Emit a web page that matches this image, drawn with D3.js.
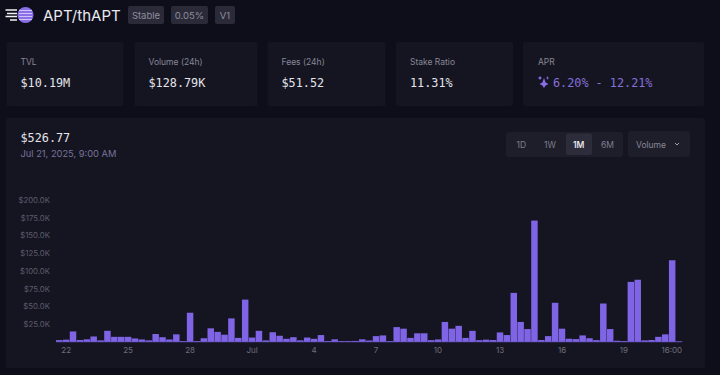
<!DOCTYPE html>
<html lang="en">
<head>
<meta charset="UTF-8">
<title>APT/thAPT</title>
<script src="https://d3js.org/d3.v7.min.js"></script>
<style>
    html, body { margin: 0; padding: 0; background: #0e0e1b; overflow: hidden; }
    svg { display: block; font-family: Inter, sans-serif; }
    .mono { font-family: "DejaVu Sans Mono", monospace; }
</style>
</head>
<body>
<svg id="chart"></svg>
<script>
    // volume per 8h bucket, in thousands of dollars
    const volumes = [
        2.4, 3, 14.6, 2.5, 3.5, 7.5, 2, 15.5, 7, 7, 7, 4.7, 3.3, 2, 11, 6.5, 3.3, 10.5, 1, 41,
        1, 5, 19, 14, 10, 33, 5.5, 59.5, 6, 15.5, 2, 13.5, 8.5, 4.2, 6.5, 2, 6, 4.2, 9.5, 1,
        3.5, 1, 1, 1.2, 3.5, 1.8, 8, 9, 1, 20.7, 18.5, 5.5, 12, 12, 2.3, 3.3, 28, 18.5, 22.5, 5.5,
        15.5, 2.3, 3, 2.5, 13.2, 9.5, 69, 28, 18, 171, 2.5, 8, 55, 18.5, 4.3, 3.8, 9, 5, 2.4, 54,
        18, 1.5, 1, 84.5, 87.5, 2, 2.5, 7, 10.5, 115, 0.53
    ];
    const yTicks = [25, 50, 75, 100, 125, 150, 175, 200];
    const xTickBars = [1, 10, 19, 28, 37, 46, 55, 64, 73, 82, 90];
    const xTickLabels = ["22", "25", "28", "Jul", "4", "7", "10", "13", "16", "19", "16:00"];

    const stats = [
        { label: "TVL", value: "$10.19M", x: 6.5, w: 117 },
        { label: "Volume (24h)", value: "$128.79K", x: 134.5, w: 123 },
        { label: "Fees (24h)", value: "$51.52", x: 267.5, w: 118 },
        { label: "Stake Ratio", value: "11.31%", x: 396, w: 117 }
    ];
    const badges = [
        { text: "Stable", x: 128, w: 36 },
        { text: "0.05%", x: 171, w: 37 },
        { text: "V1", x: 215, w: 20 }
    ];
    const ranges = ["1D", "1W", "1M", "6M"];

    const width = 720;
    const height = 375;
    const cardFill = "#151522";

    const svg = d3.select("#chart").attr("width", width).attr("height", height);

    // header
    const logo = svg.append("g");
    logo.append("circle").attr("cx", 25.5).attr("cy", 15).attr("r", 8).attr("fill", "#8a6fe8");
    [10.5, 13.5, 16.5, 19.5].forEach(y => {
        logo.append("line").attr("x1", 19).attr("x2", 32).attr("y1", y).attr("y2", y)
            .attr("stroke", "#d8cffa").attr("stroke-width", 0.9);
    });
    [[5.5, 10], [7, 13.5], [5.5, 16.5], [10, 20]].forEach(d => {
        logo.append("line").attr("x1", d[0]).attr("x2", 17).attr("y1", d[1]).attr("y2", d[1])
            .attr("stroke", "#f2f2f5").attr("stroke-width", 1.5);
    });
    svg.append("text").attr("x", 43).attr("y", 20.5).attr("fill", "#e9e9ee")
        .attr("font-size", 15).text("APT/thAPT");

    badges.forEach(b => {
        svg.append("rect").attr("x", b.x).attr("y", 6).attr("width", b.w).attr("height", 18)
            .attr("rx", 2).attr("fill", "#2a2a39");
        svg.append("text").attr("x", b.x + b.w / 2).attr("y", 18.5).attr("text-anchor", "middle")
            .attr("fill", "#8e8e9c").attr("font-size", 9.5).text(b.text);
    });

    // stat cards
    stats.forEach(s => {
        svg.append("rect").attr("x", s.x).attr("y", 42).attr("width", s.w).attr("height", 64)
            .attr("rx", 2).attr("fill", cardFill);
        svg.append("text").attr("x", s.x + 14).attr("y", 65).attr("fill", "#878795")
            .attr("font-size", 8.5).text(s.label);
        svg.append("text").attr("class", "mono").attr("x", s.x + 14).attr("y", 87)
            .attr("fill", "#e4e4ea").attr("font-size", 11.8).text(s.value);
    });
    svg.append("rect").attr("x", 523).attr("y", 42).attr("width", 181).attr("height", 64)
        .attr("rx", 2).attr("fill", cardFill);
    svg.append("text").attr("x", 538).attr("y", 65).attr("fill", "#878795")
        .attr("font-size", 8.5).text("APR");
    svg.append("path")
        .attr("d", "M544 78 L545.6 82.4 L548.5 84 L545.6 85.6 L544 88 L542.4 85.6 L539.5 84 L542.4 82.4 Z M540 76 L540.8 77.2 L542 78 L540.8 78.8 L540 80 L539.2 78.8 L538 78 L539.2 77.2 Z M547.5 76 L548 77.5 L549 78 L548 78.5 L547.5 80 L547 78.5 L546 78 L547 77.5 Z")
        .attr("fill", "#8a6fe8");
    svg.append("text").attr("class", "mono").attr("x", 553).attr("y", 87)
        .attr("fill", "#8470d8").attr("font-size", 11.8).text("6.20% - 12.21%");

    // chart panel
    svg.append("rect").attr("x", 6).attr("y", 118).attr("width", 699).attr("height", 250)
        .attr("rx", 2).attr("fill", cardFill);
    svg.append("text").attr("class", "mono").attr("x", 20.5).attr("y", 142)
        .attr("fill", "#e4e4ea").attr("font-size", 11.8).text("$526.77");
    svg.append("text").attr("x", 20.5).attr("y", 156.5)
        .attr("fill", "#76739a").attr("font-size", 9.3).text("Jul 21, 2025, 9:00 AM");

    // range switch and metric select
    svg.append("rect").attr("x", 506).attr("y", 132).attr("width", 117).attr("height", 25)
        .attr("rx", 3).attr("fill", "#1e1e2b");
    svg.append("rect").attr("x", 566).attr("y", 133.5).attr("width", 26).attr("height", 21.5)
        .attr("rx", 2).attr("fill", "#2c2c3a");
    ranges.forEach((r, i) => {
        svg.append("text").attr("x", 521.3 + i * 28.7).attr("y", 147.5).attr("text-anchor", "middle")
            .attr("fill", r === "1M" ? "#e6e6ec" : "#7f7f8d").attr("font-weight", r === "1M" ? 600 : 400)
            .attr("font-size", 8.5).text(r);
    });
    svg.append("rect").attr("x", 628).attr("y", 131).attr("width", 62).attr("height", 26)
        .attr("rx", 3).attr("fill", "#1e1e2b");
    svg.append("text").attr("x", 636).attr("y", 147.5).attr("fill", "#878795")
        .attr("font-size", 8.5).text("Volume");
    svg.append("path").attr("d", "M675 143 L677 145 L679 143").attr("fill", "none")
        .attr("stroke", "#a0a0ac").attr("stroke-width", 1);

    // bars
    const x = d3.scaleBand()
        .domain(d3.range(volumes.length))
        .range([56, 682.3])
        .paddingInner(0.06);
    const y = d3.scaleLinear().domain([0, 200]).range([341.8, 200]);

    svg.append("g").selectAll("rect").data(volumes).enter().append("rect")
        .attr("x", (d, i) => x(i))
        .attr("y", d => y(d))
        .attr("width", x.bandwidth())
        .attr("height", d => y(0) - y(d))
        .attr("fill", "#8064e6");

    // thin purple base under the bars
    svg.append("line")
        .attr("x1", x.range()[0]).attr("x2", x.range()[1])
        .attr("y1", y(0)).attr("y2", y(0))
        .attr("stroke", "#8064e6").attr("stroke-width", 0.8).attr("opacity", 0.8);

    const yAxis = svg.append("g")
        .attr("transform", "translate(52,0)")
        .call(d3.axisLeft(y).tickValues(yTicks).tickSize(0).tickPadding(2)
            .tickFormat(d => "$" + d.toFixed(1) + "K"));
    yAxis.select(".domain").remove();
    yAxis.selectAll("text").attr("fill", "#5c5c69").attr("font-size", 7.8).attr("font-family", "Inter, sans-serif");

    const xAxis = svg.append("g")
        .attr("transform", "translate(0,345)")
        .call(d3.axisBottom(x).tickValues(xTickBars).tickSize(0).tickPadding(2)
            .tickFormat(d => xTickLabels[xTickBars.indexOf(d)]));
    xAxis.select(".domain").remove();
    xAxis.selectAll("text").attr("fill", "#6e6e7b").attr("font-size", 8).attr("font-family", "Inter, sans-serif");
    // last label is held inside the plot
    xAxis.selectAll("text").filter(d => d === 90).attr("text-anchor", "end").attr("dx", 3);
</script>
</body>
</html>
